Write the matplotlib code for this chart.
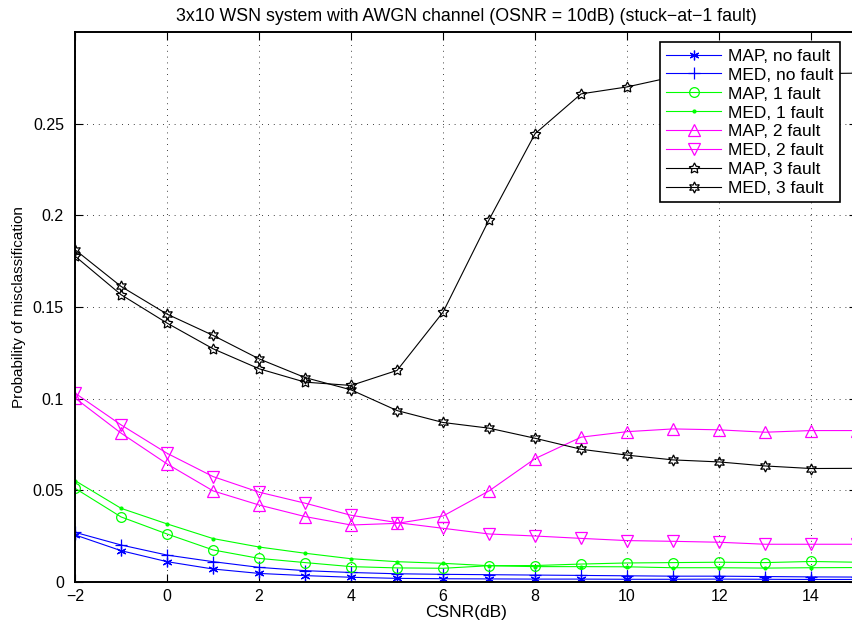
import numpy as np
import matplotlib
matplotlib.use("Agg")
import matplotlib.pyplot as plt

plt.rcParams['font.family'] = ['Liberation Sans', 'DejaVu Sans']

csnr = list(range(-2, 16))

map_nofault = [0.0257, 0.0171, 0.0111, 0.0071, 0.0047, 0.0035, 0.0026, 0.0020, 0.0018,
               0.0017, 0.0016, 0.0016, 0.0015, 0.0015, 0.0016, 0.0015, 0.0014, 0.0014]
med_nofault = [0.0271, 0.0202, 0.0147, 0.0111, 0.0080, 0.0062, 0.0052, 0.0045, 0.0042,
               0.0040, 0.0038, 0.0036, 0.0034, 0.0032, 0.0032, 0.0030, 0.0028, 0.0027]
map_1fault = [0.0511, 0.0355, 0.0262, 0.0175, 0.0129, 0.0106, 0.0084, 0.0077, 0.0075,
              0.0089, 0.0090, 0.0098, 0.0104, 0.0106, 0.0108, 0.0106, 0.0112, 0.0108]
med_1fault = [0.0553, 0.0402, 0.0317, 0.0237, 0.0191, 0.0157, 0.0127, 0.0111, 0.0102,
              0.0089, 0.0084, 0.0084, 0.0083, 0.0078, 0.0078, 0.0076, 0.0078, 0.0079]
map_2fault = [0.1003, 0.0812, 0.0644, 0.0497, 0.0420, 0.0357, 0.0311, 0.0320, 0.0360,
              0.0497, 0.0673, 0.0790, 0.0820, 0.0835, 0.0830, 0.0817, 0.0826, 0.0826]
med_2fault = [0.1030, 0.0857, 0.0702, 0.0575, 0.0490, 0.0430, 0.0364, 0.0324, 0.0293,
              0.0262, 0.0251, 0.0238, 0.0226, 0.0222, 0.0217, 0.0206, 0.0206, 0.0206]
map_3fault = [0.1777, 0.1567, 0.1412, 0.1272, 0.1163, 0.1090, 0.1072, 0.1154, 0.1472,
              0.1976, 0.2445, 0.2662, 0.2700, 0.2755, 0.2765, 0.2770, 0.2772, 0.2775]
med_3fault = [0.1812, 0.1612, 0.1461, 0.1345, 0.1217, 0.1115, 0.1048, 0.0935, 0.0870,
              0.0839, 0.0784, 0.0724, 0.0692, 0.0666, 0.0655, 0.0633, 0.0619, 0.0620]

yticks = [0, 0.05, 0.1, 0.15, 0.2, 0.25]
ytick_labels = ['0', '0.05', '0.1', '0.15', '0.2', '0.25']
xticks = list(range(-2, 15, 2))

blue = (0, 0, 1)
green = (0, 1, 0)
magenta = (1, 0, 1)

fig = plt.figure(figsize=(8.53, 6.28), dpi=100)
ax = fig.add_axes([0.088, 0.0732, 0.9168, 0.876])

lw = 0.8
ax.plot(csnr, map_nofault, color=blue, lw=lw, marker=(6, 2, 0), ms=7, mew=0.9,
        label='MAP, no fault')
ax.plot(csnr, med_nofault, color=blue, lw=lw, marker='+', ms=9, mew=0.9,
        label='MED, no fault')
ax.plot(csnr, map_1fault, color=green, lw=lw, marker='o', ms=7, mfc='none', mew=0.9,
        label='MAP, 1 fault')
ax.plot(csnr, med_1fault, color=green, lw=lw, marker='.', ms=4,
        label='MED, 1 fault')
ax.plot(csnr, map_2fault, color=magenta, lw=lw, marker='^', ms=8, mfc='none', mew=0.9,
        label='MAP, 2 fault')
ax.plot(csnr, med_2fault, color=magenta, lw=lw, marker='v', ms=8, mfc='none', mew=0.9,
        label='MED, 2 fault')
ax.plot(csnr, map_3fault, color='k', lw=lw, marker=(5, 1, 0), ms=8, mfc='none', mew=0.9,
        label='MAP, 3 fault')
ax.plot(csnr, med_3fault, color='k', lw=lw, marker=(6, 1, 0), ms=8, mfc='none', mew=0.9,
        label='MED, 3 fault')

ax.set_xlim(-2, 15)
ax.set_ylim(0, 0.3)
ax.set_xticks(xticks)
ax.set_yticks(yticks)
ax.set_yticklabels(ytick_labels)
ax.tick_params(direction='in', length=6, width=0.8, top=True, right=True,
               labelsize=11.5, pad=5)
ax.tick_params(axis='y', pad=8)
ax.grid(True, color='k', linestyle=(0, (1, 6)), linewidth=0.6)
for sp in ax.spines.values():
    sp.set_linewidth(1.4)

ax.set_title('3x10 WSN system with AWGN channel (OSNR = 10dB) (stuck\u2212at\u22121 fault)',
             fontsize=12.8, pad=8)
ax.set_xlabel('CSNR(dB)', fontsize=12.5, labelpad=1)
ax.set_ylabel('Probability of misclassification', fontsize=11, labelpad=5)

leg = ax.legend(loc='upper right', fontsize=12.5, handlelength=3.2, borderaxespad=0,
                labelspacing=0.22, handletextpad=0.4, borderpad=0.35, fancybox=False,
                framealpha=1, edgecolor='k', bbox_to_anchor=(0.978, 0.981))
leg.get_frame().set_linewidth(1.2)

fig.savefig('out.png', dpi=100)
